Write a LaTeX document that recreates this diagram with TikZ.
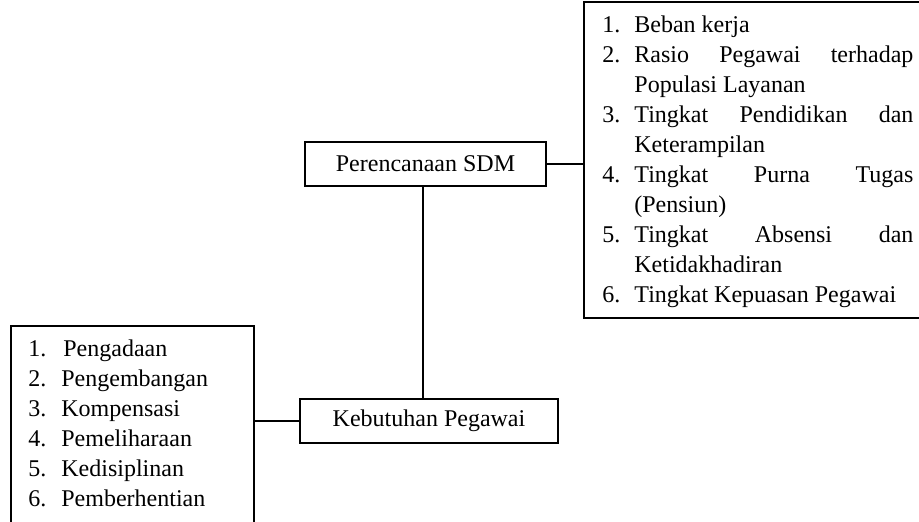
\documentclass[tikz,border=0pt]{standalone}
\usepackage{fontspec}
\setmainfont{Liberation Serif}
\newcommand\itmR[2]{\makebox[16pt][l]{#1}#2}
\newcommand\itmL[2]{\makebox[16.5pt][l]{#1}#2}
\begin{document}
\begin{tikzpicture}[x=0.5pt,y=-0.5pt,
  box/.style={draw,line width=0.6pt,inner sep=0pt,font=\fontsize{12}{15}\selectfont},
  txt/.style={inner sep=0pt,font=\fontsize{12}{15}\selectfont},
  conn/.style={line width=0.6pt}]
\useasboundingbox (0,0) rectangle (919,521);
% boxes
\node[box,minimum width=168.5pt,minimum height=158pt] (factors) at (752.5,160) {};
\node[box,minimum width=121.5pt,minimum height=99pt] (tasks) at (132.5,425) {};
\node[box,minimum width=120.5pt,minimum height=22pt] (plan) at (425.5,164) {Perencanaan SDM};
\node[box,minimum width=129pt,minimum height=22pt] (need) at (429,421) {Kebutuhan Pegawai};
% list texts
\node[txt,anchor=base west] (flist) at (602,32.3) {\parbox[t]{156pt}{\fontsize{12}{15}\selectfont\noindent
\itmR{1.}{Beban kerja}\\
\itmR{2.}{\makebox[139.5pt][s]{Rasio\hfill Pegawai\hfill terhadap}}\\
\itmR{}{Populasi Layanan}\\
\itmR{3.}{\makebox[139.5pt][s]{Tingkat\hfill Pendidikan\hfill dan}}\\
\itmR{}{Keterampilan}\\
\itmR{4.}{\makebox[139.5pt][s]{Tingkat\hfill Purna\hfill Tugas}}\\
\itmR{}{(Pensiun)}\\
\itmR{5.}{\makebox[139.5pt][s]{Tingkat\hfill Absensi\hfill dan}}\\
\itmR{}{Ketidakhadiran}\\
\itmR{6.}{Tingkat Kepuasan Pegawai}}};
\node[txt,anchor=base west] (tlist) at (28,356.7) {\parbox[t]{110pt}{\fontsize{12}{15}\selectfont\noindent
\itmL{1.}{\hspace{1pt}Pengadaan}\\
\itmL{2.}{Pengembangan}\\
\itmL{3.}{Kompensasi}\\
\itmL{4.}{Pemeliharaan}\\
\itmL{5.}{Kedisiplinan}\\
\itmL{6.}{Pemberhentian}}};
% connectors
\coordinate (v) at (423,0);
\draw[conn] (plan.east) -- (plan.east -| factors.west);
\draw[conn] (plan.south -| v) -- (need.north -| v);
\draw[conn] (need.west) -- (need.west -| tasks.east);
\end{tikzpicture}
\end{document}
